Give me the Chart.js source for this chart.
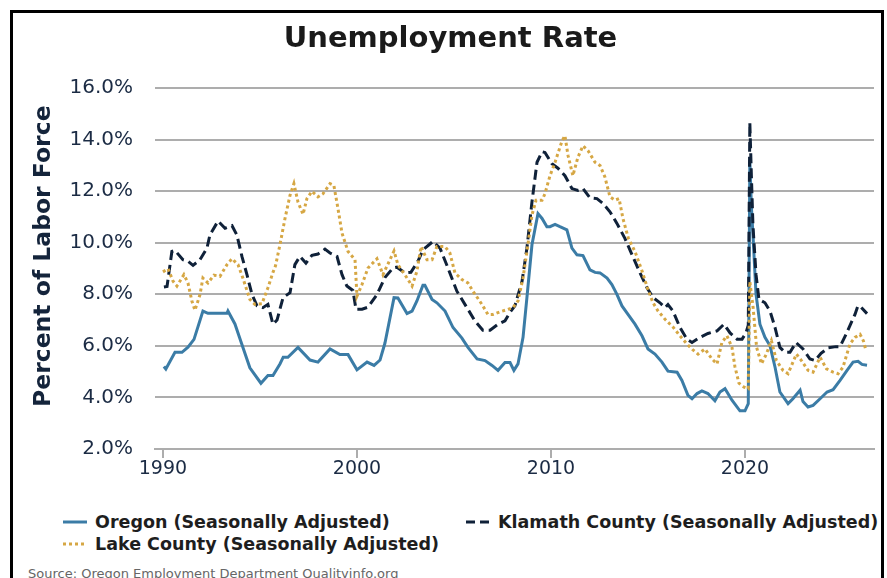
<!DOCTYPE html>
<html lang="en">
<head>
  <meta charset="UTF-8" />
  <title>Unemployment Rate</title>
  <script src="https://cdn.jsdelivr.net/npm/chart.js"></script>
  <style>
    body { margin: 0; background: #fff; font-family: "DejaVu Sans", sans-serif; overflow: hidden; }
    .frame { position: absolute; left: 10px; top: 10px; width: 868px; height: 620px; border: 3px solid #000; }
    .chart-box { position: absolute; left: 13px; top: 13px; width: 868px; height: 470px; }
    .legend-item { position: absolute; display: flex; align-items: center; font-weight: bold; font-size: 17.5px; color: #1e1e1e; white-space: nowrap; }
    .legend-item svg { margin-right: 8px; }
    .source { position: absolute; left: 28px; top: 566px; font-size: 13px; color: #666; white-space: nowrap; }
  </style>
</head>
<body>
  <div class="frame"></div>
  <div class="chart-box"><canvas id="rateChart"></canvas></div>

  <div class="legend-item" style="left:63px; top:512px;">
    <svg width="24" height="6"><line x1="0" y1="3" x2="24" y2="3" stroke="#3b7ca6" stroke-width="3"/></svg>
    Oregon (Seasonally Adjusted)
  </div>
  <div class="legend-item" style="left:466px; top:512px;">
    <svg width="24" height="6"><line x1="0" y1="3" x2="24" y2="3" stroke="#0f2139" stroke-width="3" stroke-dasharray="9 5"/></svg>
    Klamath County (Seasonally Adjusted)
  </div>
  <div class="legend-item" style="left:63px; top:534px;">
    <svg width="24" height="6"><line x1="0" y1="3" x2="24" y2="3" stroke="#d6a744" stroke-width="3" stroke-dasharray="3 3"/></svg>
    Lake County (Seasonally Adjusted)
  </div>
  <div class="source">Source: Oregon Employment Department Qualityinfo.org</div>

  <script>
    // x axis labels and y range
    const tickYears = [1990, 2000, 2010, 2020];
    const yMin = 2, yMax = 16, yStep = 2;

    // Oregon (Seasonally Adjusted) - decimal years and percent
    const oregonYears = [1990.05, 1990.15, 1990.62, 1990.98, 1991.29, 1991.6, 1992.06, 1992.32, 1993.3, 1993.35,
      1993.71, 1994.07, 1994.48, 1995.05, 1995.41, 1995.67, 1996.03, 1996.2, 1996.44, 1996.96,
      1997.58, 1997.99, 1998.61, 1999.12, 1999.54, 2000.0, 2000.52, 2000.88, 2001.19, 2001.44,
      2001.91, 2002.11, 2002.58, 2002.84, 2003.09, 2003.4, 2003.5, 2003.87, 2004.12, 2004.54,
      2004.95, 2005.41, 2005.72, 2006.19, 2006.6, 2006.96, 2007.27, 2007.63, 2007.89, 2008.09,
      2008.3, 2008.56, 2008.76, 2009.02, 2009.33, 2009.54, 2009.79, 2009.95, 2010.21, 2010.46,
      2010.82, 2011.08, 2011.34, 2011.65, 2012.01, 2012.27, 2012.53, 2012.89, 2013.14, 2013.4,
      2013.66, 2013.97, 2014.33, 2014.69, 2015.0, 2015.36, 2015.72, 2016.03, 2016.5, 2016.75,
      2017.06, 2017.27, 2017.53, 2017.78, 2018.09, 2018.45, 2018.71, 2018.97, 2019.33, 2019.74,
      2020.0, 2020.17, 2020.25, 2020.33, 2020.42, 2020.5, 2020.57, 2020.77, 2021.03, 2021.29,
      2021.55, 2021.8, 2022.22, 2022.47, 2022.84, 2022.99, 2023.25, 2023.51, 2023.87, 2024.23,
      2024.54, 2024.9, 2025.26, 2025.57, 2025.83, 2026.03, 2026.29];
    const oregonRates = [5.2, 5.1, 5.75, 5.75, 5.95, 6.25, 7.35, 7.26, 7.26, 7.35,
      6.85, 6.05, 5.15, 4.55, 4.85, 4.85, 5.3, 5.56, 5.56, 5.94,
      5.45, 5.37, 5.88, 5.66, 5.66, 5.07, 5.37, 5.24, 5.45, 6.1,
      7.87, 7.86, 7.25, 7.35, 7.74, 8.35, 8.35, 7.8, 7.67, 7.35,
      6.71, 6.3, 5.94, 5.49, 5.43, 5.24, 5.05, 5.35, 5.35, 5.05,
      5.3, 6.33, 7.87, 9.92, 11.13, 10.94, 10.62, 10.62, 10.71, 10.62,
      10.5, 9.79, 9.53, 9.5, 8.95, 8.85, 8.83, 8.63, 8.38, 8.0,
      7.55, 7.22, 6.84, 6.39, 5.88, 5.68, 5.37, 5.02, 4.98, 4.66,
      4.08, 3.95, 4.15, 4.25, 4.15, 3.87, 4.21, 4.34, 3.89, 3.48,
      3.48, 3.76, 13.2, 11.4, 10.2, 9.0, 8.0, 6.84, 6.33, 6.0,
      5.17, 4.21, 3.76, 3.95, 4.28, 3.84, 3.63, 3.69, 3.95, 4.21,
      4.3, 4.66, 5.05, 5.37, 5.4, 5.28, 5.25];

    // Klamath County (Seasonally Adjusted)
    const klamathYears = [1990.05, 1990.21, 1990.46, 1990.62, 1991.03, 1991.29, 1991.55, 1991.91, 1992.27, 1992.42,
      1992.84, 1993.2, 1993.56, 1993.81, 1994.07, 1994.33, 1994.59, 1994.85, 1995.15, 1995.41,
      1995.67, 1995.88, 1996.19, 1996.55, 1996.8, 1997.06, 1997.37, 1997.68, 1997.99, 1998.35,
      1998.61, 1998.97, 1999.23, 1999.48, 1999.79, 1999.95, 2000.26, 2000.57, 2001.03, 2001.44,
      2001.86, 2002.06, 2002.47, 2002.78, 2003.14, 2003.4, 2003.92, 2004.28, 2004.69, 2005.15,
      2005.67, 2006.08, 2006.49, 2006.86, 2007.27, 2007.63, 2007.89, 2008.14, 2008.51, 2008.76,
      2009.02, 2009.28, 2009.54, 2009.69, 2010.05, 2010.36, 2010.72, 2011.08, 2011.39, 2011.65,
      2012.01, 2012.37, 2012.68, 2013.04, 2013.4, 2013.81, 2014.18, 2014.59, 2014.95, 2015.26,
      2015.62, 2015.88, 2016.03, 2016.29, 2016.65, 2017.01, 2017.27, 2017.68, 2018.09, 2018.56,
      2018.92, 2019.23, 2019.59, 2019.85, 2020.05, 2020.17, 2020.25, 2020.33, 2020.41, 2020.57,
      2020.72, 2021.03, 2021.29, 2021.55, 2021.8, 2022.06, 2022.32, 2022.63, 2022.99, 2023.35,
      2023.61, 2023.92, 2024.28, 2024.69, 2024.9, 2025.21, 2025.67, 2025.82, 2025.98, 2026.29];
    const klamathRates = [8.28, 8.3, 9.66, 9.7, 9.34, 9.28, 9.12, 9.34, 9.79, 10.3,
      10.84, 10.56, 10.66, 10.3, 9.47, 8.76, 7.99, 7.55, 7.48, 7.61,
      6.84, 7.0, 7.87, 8.06, 9.15, 9.47, 9.21, 9.51, 9.56, 9.75,
      9.6, 9.47, 8.76, 8.32, 8.15, 7.42, 7.42, 7.5, 7.99, 8.65,
      9.02, 9.05, 8.83, 8.85, 9.28, 9.72, 10.05, 9.79, 9.02, 8.12,
      7.48, 6.97, 6.61, 6.61, 6.84, 6.97, 7.3, 7.55, 8.51, 9.79,
      11.58, 13.12, 13.53, 13.5, 13.06, 12.89, 12.6, 12.1, 12.03, 12.1,
      11.74, 11.71, 11.52, 11.2, 10.75, 10.17, 9.53, 8.83, 8.25, 7.87,
      7.67, 7.48, 7.6, 7.35, 6.71, 6.26, 6.13, 6.33, 6.48, 6.58,
      6.84, 6.5, 6.26, 6.26, 6.5, 6.8, 14.66, 12.6, 10.68, 8.76,
      7.8, 7.67, 7.35, 6.71, 5.94, 5.75, 5.75, 6.13, 5.88, 5.49,
      5.43, 5.71, 5.92, 5.97, 5.97, 6.45, 7.22, 7.55, 7.5, 7.25];

    // Lake County (Seasonally Adjusted)
    const lakeYears = [1990.0, 1990.26, 1990.52, 1990.72, 1991.08, 1991.29, 1991.49, 1991.65, 1991.91, 1992.06,
      1992.32, 1992.63, 1992.94, 1993.3, 1993.56, 1993.87, 1994.12, 1994.48, 1994.74, 1995.1,
      1995.41, 1995.67, 1995.8, 1996.03, 1996.29, 1996.55, 1996.75, 1996.96, 1997.22, 1997.42,
      1997.68, 1997.99, 1998.25, 1998.61, 1998.81, 1999.02, 1999.23, 1999.54, 1999.9, 2000.0,
      2000.26, 2000.57, 2001.03, 2001.34, 2001.91, 2002.11, 2002.47, 2002.84, 2003.09, 2003.3,
      2003.61, 2003.87, 2004.12, 2004.54, 2004.79, 2005.05, 2005.41, 2005.72, 2005.98, 2006.44,
      2006.75, 2007.01, 2007.37, 2007.73, 2008.04, 2008.3, 2008.56, 2008.81, 2009.02, 2009.23,
      2009.54, 2009.69, 2009.95, 2010.21, 2010.57, 2010.72, 2010.88, 2011.13, 2011.39, 2011.65,
      2011.91, 2012.27, 2012.53, 2012.78, 2013.04, 2013.3, 2013.51, 2013.71, 2013.99, 2014.33,
      2014.7, 2015.0, 2015.26, 2015.52, 2015.88, 2016.31, 2016.65, 2017.01, 2017.32, 2017.58,
      2017.94, 2018.3, 2018.56, 2018.81, 2019.07, 2019.33, 2019.48, 2019.69, 2019.95, 2020.17,
      2020.25, 2020.42, 2020.6, 2020.85, 2021.1, 2021.36, 2021.62, 2021.96, 2022.22, 2022.65,
      2022.91, 2023.25, 2023.51, 2023.87, 2024.2, 2024.54, 2024.8, 2025.05, 2025.41, 2025.67,
      2025.93, 2026.1, 2026.24];
    const lakeRates = [8.87, 8.99, 8.51, 8.32, 8.76, 8.44, 7.74, 7.38, 7.99, 8.63,
      8.44, 8.74, 8.7, 9.15, 9.38, 9.15, 8.63, 7.8, 7.61, 7.63,
      8.25, 8.85, 9.1, 9.92, 10.94, 11.84, 12.29, 11.58, 11.1, 11.71,
      11.99, 11.78, 11.9, 12.29, 12.22, 11.33, 10.37, 9.66, 9.34, 7.93,
      8.38, 9.02, 9.38, 8.76, 9.68, 9.15, 8.76, 8.32, 8.89, 9.85,
      9.34, 9.34, 9.85, 9.85, 9.6, 8.83, 8.57, 8.44, 8.12, 7.61,
      7.22, 7.22, 7.32, 7.4, 7.48, 7.74, 8.63, 9.92, 11.07, 11.65,
      11.65, 11.9, 12.6, 13.12, 13.95, 14.15, 13.38, 12.6, 13.32, 13.76,
      13.57, 13.12, 12.99, 12.55, 11.78, 11.65, 11.71, 10.94, 10.17, 9.66,
      8.89, 8.18, 7.67, 7.35, 7.03, 6.71, 6.39, 6.07, 5.84, 5.68,
      5.88, 5.49, 5.3, 6.13, 6.39, 5.94, 5.2, 4.55, 4.4, 4.34,
      8.5, 7.48, 5.94, 5.3, 5.68, 6.2, 5.43, 5.05, 4.92, 5.68,
      5.43, 5.05, 4.98, 5.56, 5.11, 4.98, 4.92, 5.17, 6.07, 6.33,
      6.45, 6.2, 5.81];

    const toPoints = (xs, ys) => xs.map((x, i) => ({ x: x, y: ys[i] }));

    const tickColor = '#1b2b44';
    const gridColor = '#adadad';

    new Chart(document.getElementById('rateChart'), {
      type: 'line',
      data: {
        datasets: [
          {
            label: 'Lake County (Seasonally Adjusted)',
            data: toPoints(lakeYears, lakeRates),
            borderColor: '#d6a744',
            borderWidth: 3,
            borderDash: [3, 3],
            order: 0
          },
          {
            label: 'Klamath County (Seasonally Adjusted)',
            data: toPoints(klamathYears, klamathRates),
            borderColor: '#0f2139',
            borderWidth: 3,
            borderDash: [10, 5],
            order: 1
          },
          {
            label: 'Oregon (Seasonally Adjusted)',
            data: toPoints(oregonYears, oregonRates),
            borderColor: '#3b7ca6',
            borderWidth: 3,
            order: 2
          }
        ]
      },
      options: {
        responsive: true,
        maintainAspectRatio: false,
        animation: false,
        parsing: false,
        elements: { point: { radius: 0 }, line: { tension: 0, fill: false } },
        layout: { padding: { left: 14, right: 7, top: 0, bottom: 0 } },
        plugins: {
          legend: { display: false },
          tooltip: { enabled: false },
          title: {
            display: true,
            text: 'Unemployment Rate',
            color: '#1a1a1a',
            font: { family: 'DejaVu Sans', size: 29, weight: 'bold' },
            padding: { top: 9, bottom: 31.2 }
          }
        },
        scales: {
          x: {
            type: 'linear',
            min: 1989.59,
            max: 2026.65,
            afterBuildTicks: axis => { axis.ticks = tickYears.map(v => ({ value: v })); },
            afterFit: axis => { axis.height = 31; },
            grid: { drawOnChartArea: false, drawTicks: true, tickLength: 9, color: gridColor, lineWidth: 2 },
            border: { display: true, color: gridColor, width: 2 },
            ticks: {
              padding: 0,
              color: tickColor,
              font: { family: 'DejaVu Sans', size: 19 },
              maxRotation: 0,
              callback: v => String(v)
            }
          },
          y: {
            min: yMin,
            max: yMax,
            afterFit: axis => { axis.width = 128; },
            grid: { color: gridColor, lineWidth: 2, drawTicks: false },
            border: { display: false },
            ticks: {
              stepSize: yStep,
              padding: 22,
              color: tickColor,
              font: { family: 'DejaVu Sans', size: 20 },
              callback: v => v.toFixed(1) + '%'
            },
            title: {
              display: true,
              text: '   Percent of Labor Force',
              color: '#14243b',
              font: { family: 'DejaVu Sans', size: 23.5, weight: 'bold' },
              padding: { top: 3, bottom: 0 }
            }
          }
        }
      }
    });
  </script>
</body>
</html>
